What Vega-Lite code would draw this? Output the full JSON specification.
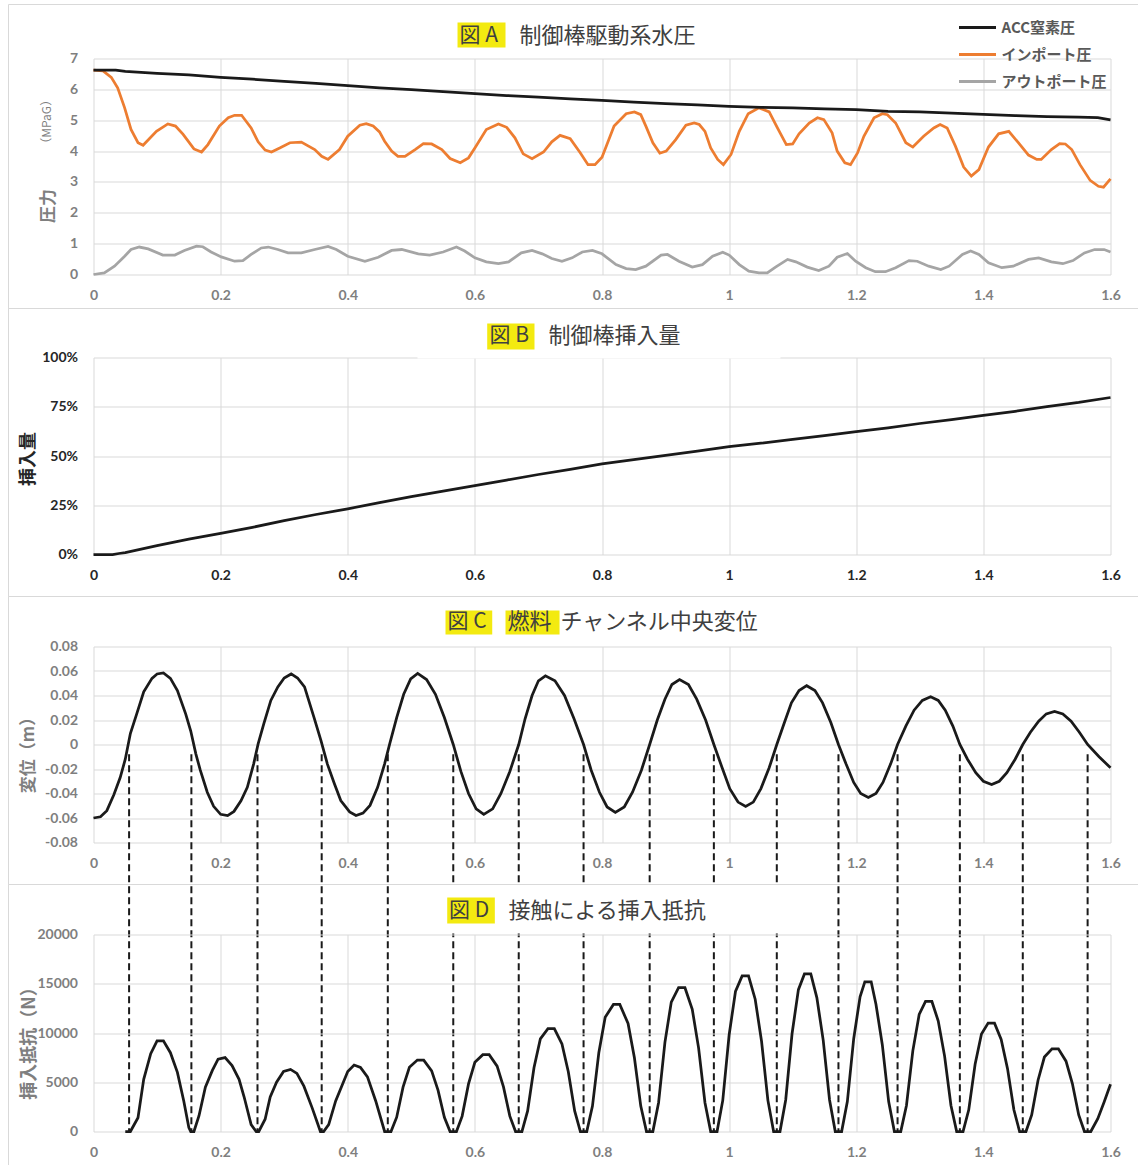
{
"$schema": "https://vega.github.io/schema/vega-lite/v6.json",
"usermeta": {"embedOptions": {"actions": false}},
"background": "white",
"padding": {"left": 7.5, "top": 3.5, "right": 0, "bottom": 0},
"bounds": "flush",
"spacing": 0,
"config": {
  "view": {"stroke": null},
  "axis": {"grid": true, "gridColor": "#d9d9d9", "gridWidth": 1, "domain": false, "ticks": false, "labelOverlap": false, "labelFont": "Lato", "labelFontWeight": "bold", "labelFontSize": 14, "labelColor": "#7f7f7f", "titleFont": "Noto Sans CJK JP", "titleFontWeight": "bold", "titleColor": "#7f7f7f"},
  "axisX": {"labelPadding": 14, "labelFlush": false},
  "axisY": {"labelPadding": 16}
},
"datasets": {
  "acc": [{"t":0,"v":6.62},{"t":0.035,"v":6.62},{"t":0.05,"v":6.58},{"t":0.1,"v":6.52},{"t":0.15,"v":6.47},{"t":0.2,"v":6.39},{"t":0.25,"v":6.33},{"t":0.3,"v":6.26},{"t":0.35,"v":6.19},{"t":0.4,"v":6.12},{"t":0.45,"v":6.05},{"t":0.5,"v":5.99},{"t":0.55,"v":5.93},{"t":0.6,"v":5.86},{"t":0.65,"v":5.8},{"t":0.7,"v":5.75},{"t":0.75,"v":5.69},{"t":0.8,"v":5.64},{"t":0.85,"v":5.59},{"t":0.9,"v":5.54},{"t":0.95,"v":5.5},{"t":1.0,"v":5.45},{"t":1.05,"v":5.42},{"t":1.1,"v":5.4},{"t":1.15,"v":5.37},{"t":1.2,"v":5.34},{"t":1.25,"v":5.29},{"t":1.3,"v":5.27},{"t":1.35,"v":5.23},{"t":1.4,"v":5.19},{"t":1.45,"v":5.15},{"t":1.5,"v":5.12},{"t":1.55,"v":5.1},{"t":1.58,"v":5.08},{"t":1.6,"v":5.01}],
  "inp": [{"t":0,"v":6.62},{"t":0.015,"v":6.6},{"t":0.028,"v":6.39},{"t":0.038,"v":6.05},{"t":0.049,"v":5.4},{"t":0.059,"v":4.7},{"t":0.07,"v":4.27},{"t":0.078,"v":4.19},{"t":0.099,"v":4.64},{"t":0.117,"v":4.88},{"t":0.129,"v":4.81},{"t":0.141,"v":4.54},{"t":0.158,"v":4.07},{"t":0.17,"v":3.97},{"t":0.18,"v":4.21},{"t":0.198,"v":4.81},{"t":0.212,"v":5.08},{"t":0.222,"v":5.16},{"t":0.233,"v":5.16},{"t":0.248,"v":4.75},{"t":0.259,"v":4.3},{"t":0.27,"v":4.03},{"t":0.28,"v":3.97},{"t":0.293,"v":4.1},{"t":0.309,"v":4.27},{"t":0.327,"v":4.29},{"t":0.348,"v":4.05},{"t":0.359,"v":3.83},{"t":0.369,"v":3.73},{"t":0.387,"v":4.05},{"t":0.4,"v":4.48},{"t":0.419,"v":4.84},{"t":0.429,"v":4.89},{"t":0.44,"v":4.81},{"t":0.45,"v":4.62},{"t":0.458,"v":4.32},{"t":0.469,"v":4.0},{"t":0.479,"v":3.83},{"t":0.49,"v":3.83},{"t":0.506,"v":4.05},{"t":0.519,"v":4.24},{"t":0.532,"v":4.23},{"t":0.548,"v":4.05},{"t":0.561,"v":3.76},{"t":0.577,"v":3.62},{"t":0.59,"v":3.78},{"t":0.6,"v":4.1},{"t":0.618,"v":4.7},{"t":0.637,"v":4.88},{"t":0.65,"v":4.77},{"t":0.663,"v":4.43},{"t":0.676,"v":3.91},{"t":0.69,"v":3.75},{"t":0.708,"v":3.97},{"t":0.721,"v":4.3},{"t":0.734,"v":4.51},{"t":0.75,"v":4.4},{"t":0.766,"v":3.94},{"t":0.778,"v":3.56},{"t":0.789,"v":3.56},{"t":0.8,"v":3.8},{"t":0.819,"v":4.81},{"t":0.838,"v":5.21},{"t":0.851,"v":5.27},{"t":0.861,"v":5.18},{"t":0.869,"v":4.81},{"t":0.88,"v":4.27},{"t":0.891,"v":3.93},{"t":0.901,"v":4.0},{"t":0.916,"v":4.37},{"t":0.932,"v":4.84},{"t":0.945,"v":4.91},{"t":0.953,"v":4.86},{"t":0.962,"v":4.64},{"t":0.971,"v":4.1},{"t":0.982,"v":3.73},{"t":0.991,"v":3.56},{"t":1.003,"v":3.89},{"t":1.016,"v":4.64},{"t":1.03,"v":5.21},{"t":1.047,"v":5.4},{"t":1.063,"v":5.27},{"t":1.076,"v":4.75},{"t":1.09,"v":4.21},{"t":1.1,"v":4.23},{"t":1.11,"v":4.56},{"t":1.126,"v":4.91},{"t":1.139,"v":5.08},{"t":1.149,"v":5.02},{"t":1.162,"v":4.59},{"t":1.17,"v":4.0},{"t":1.182,"v":3.62},{"t":1.191,"v":3.56},{"t":1.202,"v":3.94},{"t":1.212,"v":4.48},{"t":1.228,"v":5.08},{"t":1.241,"v":5.21},{"t":1.249,"v":5.18},{"t":1.262,"v":4.91},{"t":1.278,"v":4.27},{"t":1.289,"v":4.13},{"t":1.306,"v":4.48},{"t":1.322,"v":4.75},{"t":1.332,"v":4.86},{"t":1.343,"v":4.75},{"t":1.356,"v":4.16},{"t":1.369,"v":3.48},{"t":1.381,"v":3.19},{"t":1.393,"v":3.4},{"t":1.408,"v":4.13},{"t":1.424,"v":4.56},{"t":1.44,"v":4.64},{"t":1.455,"v":4.27},{"t":1.471,"v":3.87},{"t":1.484,"v":3.73},{"t":1.491,"v":3.73},{"t":1.507,"v":4.05},{"t":1.52,"v":4.24},{"t":1.529,"v":4.23},{"t":1.539,"v":4.05},{"t":1.552,"v":3.56},{"t":1.568,"v":3.05},{"t":1.581,"v":2.86},{"t":1.589,"v":2.83},{"t":1.6,"v":3.1}],
  "out": [{"t":0,"v":0.0},{"t":0.017,"v":0.05},{"t":0.033,"v":0.27},{"t":0.049,"v":0.59},{"t":0.059,"v":0.81},{"t":0.072,"v":0.89},{"t":0.086,"v":0.83},{"t":0.109,"v":0.63},{"t":0.128,"v":0.63},{"t":0.143,"v":0.78},{"t":0.162,"v":0.92},{"t":0.172,"v":0.9},{"t":0.185,"v":0.73},{"t":0.201,"v":0.57},{"t":0.222,"v":0.43},{"t":0.235,"v":0.45},{"t":0.248,"v":0.65},{"t":0.264,"v":0.86},{"t":0.275,"v":0.89},{"t":0.29,"v":0.81},{"t":0.306,"v":0.7},{"t":0.327,"v":0.7},{"t":0.348,"v":0.81},{"t":0.369,"v":0.91},{"t":0.382,"v":0.81},{"t":0.4,"v":0.59},{"t":0.427,"v":0.43},{"t":0.448,"v":0.56},{"t":0.469,"v":0.78},{"t":0.485,"v":0.81},{"t":0.511,"v":0.67},{"t":0.529,"v":0.63},{"t":0.55,"v":0.73},{"t":0.571,"v":0.89},{"t":0.584,"v":0.76},{"t":0.6,"v":0.54},{"t":0.618,"v":0.41},{"t":0.637,"v":0.35},{"t":0.653,"v":0.41},{"t":0.673,"v":0.7},{"t":0.69,"v":0.78},{"t":0.706,"v":0.67},{"t":0.721,"v":0.52},{"t":0.737,"v":0.43},{"t":0.753,"v":0.54},{"t":0.769,"v":0.73},{"t":0.785,"v":0.78},{"t":0.8,"v":0.67},{"t":0.822,"v":0.32},{"t":0.838,"v":0.19},{"t":0.853,"v":0.16},{"t":0.869,"v":0.27},{"t":0.893,"v":0.63},{"t":0.903,"v":0.65},{"t":0.921,"v":0.43},{"t":0.942,"v":0.24},{"t":0.958,"v":0.32},{"t":0.974,"v":0.59},{"t":0.99,"v":0.72},{"t":1.0,"v":0.63},{"t":1.016,"v":0.32},{"t":1.031,"v":0.11},{"t":1.047,"v":0.05},{"t":1.06,"v":0.05},{"t":1.073,"v":0.24},{"t":1.092,"v":0.49},{"t":1.105,"v":0.41},{"t":1.123,"v":0.24},{"t":1.141,"v":0.13},{"t":1.157,"v":0.27},{"t":1.17,"v":0.56},{"t":1.186,"v":0.68},{"t":1.199,"v":0.43},{"t":1.215,"v":0.22},{"t":1.23,"v":0.09},{"t":1.246,"v":0.09},{"t":1.262,"v":0.22},{"t":1.283,"v":0.45},{"t":1.296,"v":0.43},{"t":1.314,"v":0.27},{"t":1.333,"v":0.16},{"t":1.346,"v":0.27},{"t":1.367,"v":0.65},{"t":1.38,"v":0.76},{"t":1.393,"v":0.65},{"t":1.408,"v":0.38},{"t":1.429,"v":0.22},{"t":1.447,"v":0.27},{"t":1.471,"v":0.49},{"t":1.487,"v":0.54},{"t":1.507,"v":0.41},{"t":1.525,"v":0.35},{"t":1.541,"v":0.45},{"t":1.559,"v":0.7},{"t":1.575,"v":0.81},{"t":1.59,"v":0.81},{"t":1.6,"v":0.73}],
  "ins": [{"t":0,"v":0},{"t":0.03,"v":0},{"t":0.04,"v":0.005},{"t":0.05,"v":0.01},{"t":0.1,"v":0.045},{"t":0.15,"v":0.078},{"t":0.2,"v":0.107},{"t":0.25,"v":0.138},{"t":0.3,"v":0.172},{"t":0.35,"v":0.203},{"t":0.4,"v":0.232},{"t":0.45,"v":0.263},{"t":0.5,"v":0.294},{"t":0.55,"v":0.322},{"t":0.6,"v":0.35},{"t":0.65,"v":0.378},{"t":0.7,"v":0.406},{"t":0.75,"v":0.432},{"t":0.8,"v":0.46},{"t":0.85,"v":0.482},{"t":0.9,"v":0.503},{"t":0.95,"v":0.525},{"t":1.0,"v":0.548},{"t":1.05,"v":0.565},{"t":1.1,"v":0.584},{"t":1.15,"v":0.603},{"t":1.2,"v":0.624},{"t":1.25,"v":0.643},{"t":1.3,"v":0.665},{"t":1.35,"v":0.685},{"t":1.4,"v":0.706},{"t":1.45,"v":0.727},{"t":1.5,"v":0.751},{"t":1.55,"v":0.772},{"t":1.6,"v":0.797}],
  "disp": [{"t":0,"v":-0.06},{"t":0.011,"v":-0.059},{"t":0.021,"v":-0.054},{"t":0.032,"v":-0.041},{"t":0.042,"v":-0.027},{"t":0.05,"v":-0.012},{"t":0.058,"v":0.009},{"t":0.068,"v":0.025},{"t":0.079,"v":0.043},{"t":0.092,"v":0.054},{"t":0.1,"v":0.0576},{"t":0.11,"v":0.0584},{"t":0.121,"v":0.054},{"t":0.132,"v":0.044},{"t":0.145,"v":0.025},{"t":0.153,"v":0.011},{"t":0.161,"v":-0.0076},{"t":0.168,"v":-0.021},{"t":0.179,"v":-0.039},{"t":0.189,"v":-0.0505},{"t":0.2,"v":-0.057},{"t":0.211,"v":-0.058},{"t":0.221,"v":-0.0546},{"t":0.232,"v":-0.046},{"t":0.242,"v":-0.035},{"t":0.252,"v":-0.0158},{"t":0.259,"v":0.0005},{"t":0.268,"v":0.017},{"t":0.279,"v":0.036},{"t":0.29,"v":0.047},{"t":0.3,"v":0.0543},{"t":0.311,"v":0.0576},{"t":0.321,"v":0.0543},{"t":0.332,"v":0.047},{"t":0.347,"v":0.022},{"t":0.358,"v":0.003},{"t":0.368,"v":-0.016},{"t":0.379,"v":-0.032},{"t":0.389,"v":-0.0457},{"t":0.403,"v":-0.055},{"t":0.413,"v":-0.058},{"t":0.424,"v":-0.056},{"t":0.435,"v":-0.0497},{"t":0.447,"v":-0.035},{"t":0.458,"v":-0.0158},{"t":0.466,"v":0.0005},{"t":0.477,"v":0.022},{"t":0.488,"v":0.041},{"t":0.499,"v":0.0535},{"t":0.51,"v":0.058},{"t":0.524,"v":0.053},{"t":0.538,"v":0.041},{"t":0.552,"v":0.022},{"t":0.566,"v":0},{"t":0.578,"v":-0.022},{"t":0.59,"v":-0.04},{"t":0.602,"v":-0.0525},{"t":0.614,"v":-0.057},{"t":0.628,"v":-0.0525},{"t":0.641,"v":-0.04},{"t":0.655,"v":-0.022},{"t":0.669,"v":0},{"t":0.679,"v":0.021},{"t":0.69,"v":0.04},{"t":0.7,"v":0.052},{"t":0.711,"v":0.056},{"t":0.726,"v":0.052},{"t":0.741,"v":0.04},{"t":0.756,"v":0.021},{"t":0.771,"v":0},{"t":0.783,"v":-0.021},{"t":0.796,"v":-0.039},{"t":0.808,"v":-0.051},{"t":0.821,"v":-0.0555},{"t":0.835,"v":-0.051},{"t":0.848,"v":-0.039},{"t":0.862,"v":-0.021},{"t":0.875,"v":0},{"t":0.887,"v":0.02},{"t":0.899,"v":0.037},{"t":0.91,"v":0.049},{"t":0.922,"v":0.053},{"t":0.936,"v":0.049},{"t":0.949,"v":0.037},{"t":0.963,"v":0.02},{"t":0.976,"v":0},{"t":0.989,"v":-0.019},{"t":1.001,"v":-0.036},{"t":1.014,"v":-0.047},{"t":1.026,"v":-0.0506},{"t":1.038,"v":-0.047},{"t":1.05,"v":-0.036},{"t":1.063,"v":-0.019},{"t":1.075,"v":0},{"t":1.087,"v":0.018},{"t":1.098,"v":0.034},{"t":1.11,"v":0.044},{"t":1.122,"v":0.048},{"t":1.135,"v":0.044},{"t":1.147,"v":0.034},{"t":1.16,"v":0.018},{"t":1.172,"v":0},{"t":1.184,"v":-0.016},{"t":1.196,"v":-0.031},{"t":1.207,"v":-0.04},{"t":1.219,"v":-0.0433},{"t":1.231,"v":-0.04},{"t":1.242,"v":-0.031},{"t":1.254,"v":-0.016},{"t":1.265,"v":0},{"t":1.278,"v":0.015},{"t":1.291,"v":0.028},{"t":1.304,"v":0.036},{"t":1.317,"v":0.039},{"t":1.329,"v":0.036},{"t":1.34,"v":0.028},{"t":1.352,"v":0.015},{"t":1.363,"v":0},{"t":1.375,"v":-0.012},{"t":1.388,"v":-0.023},{"t":1.4,"v":-0.03},{"t":1.413,"v":-0.0327},{"t":1.425,"v":-0.03},{"t":1.437,"v":-0.023},{"t":1.45,"v":-0.012},{"t":1.462,"v":0},{"t":1.474,"v":0.01},{"t":1.487,"v":0.019},{"t":1.499,"v":0.025},{"t":1.512,"v":0.027},{"t":1.525,"v":0.025},{"t":1.538,"v":0.019},{"t":1.551,"v":0.01},{"t":1.564,"v":0},{"t":1.582,"v":-0.01},{"t":1.6,"v":-0.019}],
  "cross": [{"t":0.056},{"t":0.154},{"t":0.258},{"t":0.359},{"t":0.463},{"t":0.566},{"t":0.669},{"t":0.771},{"t":0.875},{"t":0.976},{"t":1.075},{"t":1.172},{"t":1.265},{"t":1.363},{"t":1.462},{"t":1.564}],
  "res": [{"t":0.05,"v":0},{"t":0.058,"v":0},{"t":0.07,"v":1400},{"t":0.079,"v":5300},{"t":0.09,"v":7900},{"t":0.1,"v":9200},{"t":0.11,"v":9200},{"t":0.121,"v":8000},{"t":0.132,"v":6000},{"t":0.142,"v":3100},{"t":0.15,"v":400},{"t":0.153,"v":0},{"t":0.158,"v":0},{"t":0.166,"v":1600},{"t":0.176,"v":4500},{"t":0.187,"v":6200},{"t":0.196,"v":7350},{"t":0.207,"v":7500},{"t":0.218,"v":6700},{"t":0.229,"v":5300},{"t":0.237,"v":3500},{"t":0.248,"v":700},{"t":0.256,"v":0},{"t":0.26,"v":0},{"t":0.27,"v":1250},{"t":0.278,"v":3500},{"t":0.288,"v":5000},{"t":0.299,"v":6100},{"t":0.31,"v":6300},{"t":0.32,"v":5900},{"t":0.331,"v":4600},{"t":0.344,"v":2400},{"t":0.357,"v":0},{"t":0.362,"v":0},{"t":0.37,"v":700},{"t":0.381,"v":3100},{"t":0.4,"v":6100},{"t":0.41,"v":6750},{"t":0.42,"v":6500},{"t":0.431,"v":5550},{"t":0.444,"v":3100},{"t":0.458,"v":0},{"t":0.468,"v":0},{"t":0.477,"v":1450},{"t":0.487,"v":4500},{"t":0.497,"v":6525},{"t":0.5095,"v":7250},{"t":0.5195,"v":7250},{"t":0.532,"v":6160},{"t":0.542,"v":4200},{"t":0.552,"v":1450},{"t":0.561,"v":0},{"t":0.571,"v":0},{"t":0.58,"v":1560},{"t":0.59,"v":4836},{"t":0.6,"v":7020},{"t":0.6125,"v":7800},{"t":0.6225,"v":7800},{"t":0.635,"v":6630},{"t":0.645,"v":4524},{"t":0.655,"v":1560},{"t":0.664,"v":0},{"t":0.674,"v":0},{"t":0.683,"v":2090},{"t":0.693,"v":6479},{"t":0.703,"v":9405},{"t":0.715,"v":10450},{"t":0.725,"v":10450},{"t":0.737,"v":8883},{"t":0.747,"v":6061},{"t":0.757,"v":2090},{"t":0.766,"v":0},{"t":0.776,"v":0},{"t":0.785,"v":2580},{"t":0.795,"v":7998},{"t":0.805,"v":11610},{"t":0.818,"v":12900},{"t":0.828,"v":12900},{"t":0.841,"v":10965},{"t":0.851,"v":7482},{"t":0.861,"v":2580},{"t":0.87,"v":0},{"t":0.88,"v":0},{"t":0.889,"v":2920},{"t":0.899,"v":9052},{"t":0.909,"v":13140},{"t":0.9205,"v":14600},{"t":0.9305,"v":14600},{"t":0.942,"v":12410},{"t":0.952,"v":8468},{"t":0.962,"v":2920},{"t":0.971,"v":0},{"t":0.981,"v":0},{"t":0.99,"v":3160},{"t":1.0,"v":9796},{"t":1.01,"v":14220},{"t":1.0205,"v":15800},{"t":1.0305,"v":15800},{"t":1.041,"v":13430},{"t":1.051,"v":9164},{"t":1.061,"v":3160},{"t":1.07,"v":0},{"t":1.08,"v":0},{"t":1.089,"v":3200},{"t":1.099,"v":9920},{"t":1.109,"v":14400},{"t":1.1185,"v":16000},{"t":1.1285,"v":16000},{"t":1.138,"v":13600},{"t":1.148,"v":9280},{"t":1.158,"v":3200},{"t":1.167,"v":0},{"t":1.177,"v":0},{"t":1.186,"v":3040},{"t":1.196,"v":9424},{"t":1.206,"v":13680},{"t":1.2135,"v":15200},{"t":1.2235,"v":15200},{"t":1.231,"v":12920},{"t":1.241,"v":8816},{"t":1.251,"v":3040},{"t":1.26,"v":0},{"t":1.27,"v":0},{"t":1.279,"v":2640},{"t":1.289,"v":8184},{"t":1.299,"v":11880},{"t":1.309,"v":13200},{"t":1.319,"v":13200},{"t":1.329,"v":11220},{"t":1.339,"v":7656},{"t":1.349,"v":2640},{"t":1.358,"v":0},{"t":1.368,"v":0},{"t":1.377,"v":2200},{"t":1.387,"v":6820},{"t":1.397,"v":9900},{"t":1.4075,"v":11000},{"t":1.4175,"v":11000},{"t":1.428,"v":9350},{"t":1.438,"v":6380},{"t":1.448,"v":2200},{"t":1.457,"v":0},{"t":1.467,"v":0},{"t":1.476,"v":1680},{"t":1.486,"v":5208},{"t":1.496,"v":7560},{"t":1.508,"v":8400},{"t":1.518,"v":8400},{"t":1.53,"v":7140},{"t":1.54,"v":4872},{"t":1.55,"v":1680},{"t":1.559,"v":0},{"t":1.569,"v":0},{"t":1.58,"v":1300},{"t":1.59,"v":3000},{"t":1.6,"v":4800}]
},
"vconcat": [
 {
  "width": 1017, "height": 216,
  "layer": [
   {"data": {"name": "out"}, "mark": {"type": "line", "strokeWidth": 2.75},
    "encoding": {
      "x": {"field": "t", "type": "quantitative", "scale": {"domain": [0, 1.6], "nice": false, "zero": false}, "axis": {"values": [0,0.2,0.4,0.6,0.8,1,1.2,1.4,1.6], "format": "~g", "title": null, "labelOverlap": false}},
      "y": {"field": "v", "type": "quantitative", "scale": {"domain": [0, 7], "nice": false}, "axis": {"values": [0,1,2,3,4,5,6,7], "labelOverlap": false, "tickCount": 8, "title": "圧力", "titleFontSize": 17, "titleAngle": 270, "titleBaseline": "middle", "titleAlign": "center", "titleX": -45, "titleY": 147}},
      "color": {"datum": "アウトポート圧", "type": "nominal", "scale": {"domain": ["ACC窒素圧", "インポート圧", "アウトポート圧"], "range": ["#1a1a1a", "#ed7d31", "#a5a5a5"]},
        "legend": {"orient": "none", "legendX": 864, "legendY": -41, "title": null, "symbolType": "stroke", "symbolSize": 1369, "symbolStrokeWidth": 3, "labelFont": "Noto Sans CJK JP", "labelFontWeight": "bold", "labelFontSize": 15, "labelColor": "#595959", "rowPadding": 7, "clipHeight": 20, "labelOffset": 4, "padding": 0}}
    }},
   {"data": {"name": "inp"}, "mark": {"type": "line", "strokeWidth": 2.75},
    "encoding": {"x": {"field": "t", "type": "quantitative"}, "y": {"field": "v", "type": "quantitative"}, "color": {"datum": "インポート圧", "type": "nominal"}}},
   {"data": {"name": "acc"}, "mark": {"type": "line", "strokeWidth": 2.75},
    "encoding": {"x": {"field": "t", "type": "quantitative"}, "y": {"field": "v", "type": "quantitative"}, "color": {"datum": "ACC窒素圧", "type": "nominal"}}},
   {"data": {"values": [{}]}, "mark": {"type": "rect", "filled": false, "stroke": "#d9d9d9", "strokeWidth": 1, "clip": false},
    "encoding": {"x": {"datum": -0.13373}, "x2": {"datum": 1.75}, "y": {"datum": -1.1018}, "y2": {"datum": 8.75}}},
   {"data": {"values": [{}]}, "mark": {"type": "rect", "fill": "#f3ea10", "clip": false},
    "encoding": {"x": {"datum": 0.5727}, "x2": {"datum": 0.6482}, "y": {"datum": 7.356}, "y2": {"datum": 8.167}}},
   {"data": {"values": [{}]}, "mark": {"type": "text", "text": "図 A", "align": "left", "baseline": "middle", "fontSize": 21, "color": "#404040", "font": "Noto Sans CJK JP", "clip": false},
    "encoding": {"x": {"datum": 0.5758}, "y": {"datum": 7.745}}},
   {"data": {"values": [{}]}, "mark": {"type": "text", "text": "制御棒駆動系水圧", "align": "left", "baseline": "middle", "fontSize": 22, "color": "#404040", "font": "Noto Sans CJK JP", "clip": false},
    "encoding": {"x": {"datum": 0.6701}, "y": {"datum": 7.745}}},
   {"data": {"values": [{}]}, "mark": {"type": "text", "text": "（MPaG）", "align": "center", "baseline": "middle", "angle": 270, "fontSize": 12, "color": "#7f7f7f", "font": "Noto Sans CJK JP", "clip": false},
    "encoding": {"x": {"datum": -0.07237}, "y": {"datum": 4.95}}}
  ]
 },
 {"width": 1017, "height": 83, "data": {"values": []}, "mark": "point"},
 {
  "width": 1017, "height": 197,
  "layer": [
   {"data": {"name": "ins"}, "mark": {"type": "line", "strokeWidth": 2.75, "color": "#1a1a1a"},
    "encoding": {
      "x": {"field": "t", "type": "quantitative", "scale": {"domain": [0, 1.6], "nice": false, "zero": false}, "axis": {"values": [0,0.2,0.4,0.6,0.8,1,1.2,1.4,1.6], "format": "~g", "title": null, "labelOverlap": false, "labelColor": "#262626"}},
      "y": {"field": "v", "type": "quantitative", "scale": {"domain": [0, 1], "nice": false}, "axis": {"values": [0,0.25,0.5,0.75,1], "format": ".0%", "labelOverlap": false, "labelColor": "#262626", "title": "挿入量", "titleColor": "#262626", "titleFontSize": 18, "titleAngle": 270, "titleBaseline": "middle", "titleAlign": "center", "titleX": -65, "titleY": 101}}
    }},
   {"data": {"values": [{}]}, "mark": {"type": "rect", "filled": false, "stroke": "#d9d9d9", "strokeWidth": 1, "clip": false},
    "encoding": {"x": {"datum": -0.13373}, "x2": {"datum": 1.75}, "y": {"datum": -0.2132}, "y2": {"datum": 1.2487}}},
   {"data": {"values": [{}]}, "mark": {"type": "rect", "fill": "white", "clip": false},
    "encoding": {"x": {"datum": 0.5097}, "x2": {"datum": 1.0808}, "y": {"datum": 0.995}, "y2": {"datum": 1.2}}},
   {"data": {"values": [{}]}, "mark": {"type": "rect", "fill": "#f3ea10", "clip": false},
    "encoding": {"x": {"datum": 0.6194}, "x2": {"datum": 0.6938}, "y": {"datum": 1.0406}, "y2": {"datum": 1.1726}}},
   {"data": {"values": [{}]}, "mark": {"type": "text", "text": "図 B", "align": "left", "baseline": "middle", "fontSize": 21, "color": "#404040", "font": "Noto Sans CJK JP", "clip": false},
    "encoding": {"x": {"datum": 0.6231}, "y": {"datum": 1.107}}},
   {"data": {"values": [{}]}, "mark": {"type": "text", "text": "制御棒挿入量", "align": "left", "baseline": "middle", "fontSize": 22, "color": "#404040", "font": "Noto Sans CJK JP", "clip": false},
    "encoding": {"x": {"datum": 0.7158}, "y": {"datum": 1.107}}}
  ]
 },
 {"width": 1017, "height": 92, "data": {"values": []}, "mark": "point"},
 {
  "width": 1017, "height": 196,
  "layer": [
   {"data": {"name": "disp"}, "mark": {"type": "line", "strokeWidth": 2.75, "color": "#1a1a1a"},
    "encoding": {
      "x": {"field": "t", "type": "quantitative", "scale": {"domain": [0, 1.6], "nice": false, "zero": false}, "axis": {"values": [0,0.2,0.4,0.6,0.8,1,1.2,1.4,1.6], "format": "~g", "title": null, "labelOverlap": false}},
      "y": {"field": "v", "type": "quantitative", "scale": {"domain": [-0.08, 0.08], "nice": false, "zero": false}, "axis": {"values": [-0.08,-0.06,-0.04,-0.02,0,0.02,0.04,0.06,0.08], "labelOverlap": false, "tickCount": 9, "format": "~g", "labelExpr": "replace(datum.label, '−', '-')", "title": "変位（m）", "titleFontSize": 17, "titleAngle": 270, "titleBaseline": "middle", "titleAlign": "center", "titleX": -65, "titleY": 104}}
    }},
   {"data": {"name": "cross"}, "mark": {"type": "rule", "strokeDash": [7, 4], "strokeWidth": 2, "color": "#1a1a1a", "clip": false},
    "encoding": {"x": {"field": "t", "type": "quantitative"}, "y": {"datum": -0.008}, "y2": {"datum": -0.316}}},
   {"data": {"values": [{}]}, "mark": {"type": "rect", "filled": false, "stroke": "#d9d9d9", "strokeWidth": 1, "clip": false},
    "encoding": {"x": {"datum": -0.13373}, "x2": {"datum": 1.75}, "y": {"datum": -0.1143}, "y2": {"datum": 0.1208}}},
   {"data": {"values": [{}]}, "mark": {"type": "rect", "fill": "#f3ea10", "clip": false},
    "encoding": {"x": {"datum": 0.5538}, "x2": {"datum": 0.6273}, "y": {"datum": 0.0898}, "y2": {"datum": 0.1094}}},
   {"data": {"values": [{}]}, "mark": {"type": "rect", "fill": "#f3ea10", "clip": false},
    "encoding": {"x": {"datum": 0.6482}, "x2": {"datum": 0.7332}, "y": {"datum": 0.0898}, "y2": {"datum": 0.1094}}},
   {"data": {"values": [{}]}, "mark": {"type": "text", "text": "図 C", "align": "left", "baseline": "middle", "fontSize": 21, "color": "#404040", "font": "Noto Sans CJK JP", "clip": false},
    "encoding": {"x": {"datum": 0.557}, "y": {"datum": 0.0996}}},
   {"data": {"values": [{}]}, "mark": {"type": "text", "text": "燃料", "align": "left", "baseline": "middle", "fontSize": 22, "color": "#404040", "font": "Noto Sans CJK JP", "clip": false},
    "encoding": {"x": {"datum": 0.6514}, "y": {"datum": 0.0996}}},
   {"data": {"values": [{}]}, "mark": {"type": "text", "text": "チャンネル中央変位", "align": "left", "baseline": "middle", "fontSize": 22, "color": "#404040", "font": "Noto Sans CJK JP", "clip": false},
    "encoding": {"x": {"datum": 0.7347}, "y": {"datum": 0.0996}}}
  ]
 },
 {"width": 1017, "height": 92, "data": {"values": []}, "mark": "point"},
 {
  "width": 1017, "height": 197,
  "layer": [
   {"data": {"name": "res"}, "mark": {"type": "line", "strokeWidth": 2.75, "color": "#1a1a1a"},
    "encoding": {
      "x": {"field": "t", "type": "quantitative", "scale": {"domain": [0, 1.6], "nice": false, "zero": false}, "axis": {"values": [0,0.2,0.4,0.6,0.8,1,1.2,1.4,1.6], "format": "~g", "title": null, "labelOverlap": false}},
      "y": {"field": "v", "type": "quantitative", "scale": {"domain": [0, 20000], "nice": false}, "axis": {"values": [0,5000,10000,15000,20000], "labelOverlap": false, "format": "d", "title": "挿入抵抗（N）", "titleFontSize": 18, "titleAngle": 270, "titleBaseline": "middle", "titleAlign": "center", "titleX": -64, "titleY": 104}}
    }},
   {"data": {"values": [{}]}, "mark": {"type": "rect", "filled": false, "stroke": "#d9d9d9", "strokeWidth": 1, "clip": false},
    "encoding": {"x": {"datum": -0.13373}, "x2": {"datum": 1.75}, "y": {"datum": -4500}, "y2": {"datum": 25076}}},
   {"data": {"values": [{}]}, "mark": {"type": "rect", "fill": "white", "clip": false},
    "encoding": {"x": {"datum": 0.5097}, "x2": {"datum": 1.0808}, "y": {"datum": 20100}, "y2": {"datum": 24975}}},
   {"data": {"values": [{}]}, "mark": {"type": "rect", "fill": "#f3ea10", "clip": false},
    "encoding": {"x": {"datum": 0.5565}, "x2": {"datum": 0.6314}, "y": {"datum": 21117}, "y2": {"datum": 23757}}},
   {"data": {"values": [{}]}, "mark": {"type": "text", "text": "図 D", "align": "left", "baseline": "middle", "fontSize": 21, "color": "#404040", "font": "Noto Sans CJK JP", "clip": false},
    "encoding": {"x": {"datum": 0.5593}, "y": {"datum": 22436}}},
   {"data": {"values": [{}]}, "mark": {"type": "text", "text": "接触による挿入抵抗", "align": "left", "baseline": "middle", "fontSize": 22, "color": "#404040", "font": "Noto Sans CJK JP", "clip": false},
    "encoding": {"x": {"datum": 0.6529}, "y": {"datum": 22436}}}
  ]
 }
]
}
